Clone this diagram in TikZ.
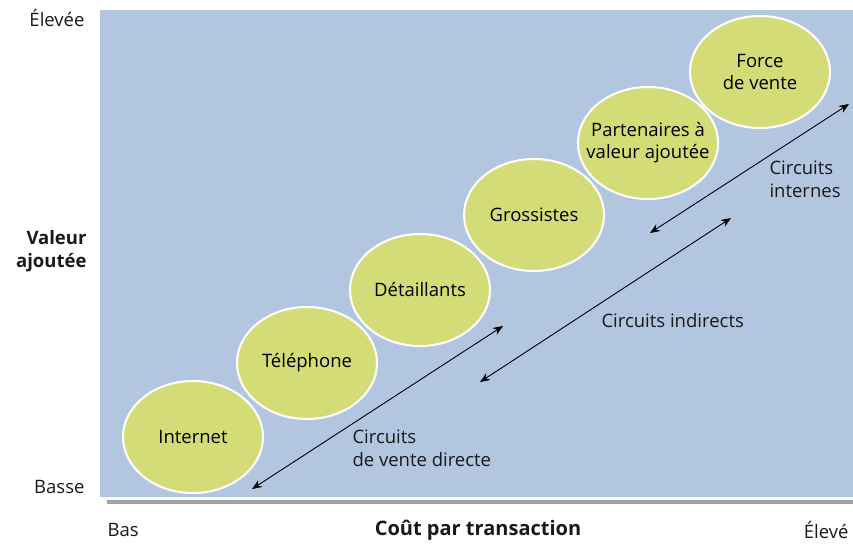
\documentclass[tikz,border=0pt]{standalone}
\usepackage{fontspec}
\setmainfont{Open Sans}
\usetikzlibrary{shapes.geometric,arrows.meta}
\definecolor{fondbleu}{HTML}{B3C6DF}
\definecolor{vertcircuit}{HTML}{D4DC78}
\definecolor{grisaxe}{HTML}{A3A3A3}
\begin{document}
\begin{tikzpicture}[line cap=round,line join=round,x=1pt,y=-1pt,
	circuit/.style={ellipse,fill=vertcircuit,draw=white,line width=2pt,minimum width=140pt,minimum height=112pt,inner xsep=-12pt,inner ysep=0pt,align=center,font=\fontsize{18.5}{22}\selectfont},
	etiq/.style={font=\fontsize{18.5}{23}\selectfont,text=black!90},
	fleche/.style={{Stealth[length=10pt,width=8pt]}-{Stealth[length=10pt,width=8pt]},line width=0.9pt}]
					\useasboundingbox (0,0) rectangle (853,543);
					\fill [color=fondbleu] (100,10) rectangle (853,497);
					\draw [line width=4pt, color=grisaxe, line cap=butt] (107,502)-- (853,502);
					%% les circuits
					\node[circuit] (internet) at (193,437) {Internet};
					\node[circuit] (telephone) at (307,363) {Téléphone};
					\node[circuit] (detaillants) at (420,290) {Détaillants};
					\node[circuit] (grossistes) at (534,215) {Grossistes};
					\node[circuit] (partenaires) at (648,143) {Partenaires à\\valeur ajoutée};
					\node[circuit] (force) at (760,72) {Force\\de vente};
					%% les fleches
					\coordinate (directA) at (252,489);
					\coordinate (directB) at (503,326);
					\coordinate (indirA) at (480,382);
					\coordinate (indirB) at (731,218);
					\coordinate (interneA) at (650,233);
					\coordinate (interneB) at (849,104);
					\draw [fleche] (directA) -- (directB);
					\draw [fleche] (indirA) -- (indirB);
					\draw [fleche] (interneA) -- (interneB);
					\node[etiq, anchor=west, align=left] (lbldirect) at (349,448) {Circuits\\de vente directe};
					\node[etiq, anchor=west] (lblindir) at (598,321) {Circuits indirects};
					\node[etiq, anchor=west, align=left] (lblinterne) at (766,179) {Circuits\\internes};
					%% les axes
					\node[etiq, anchor=east] (haut) at (88,18) {Élevée};
					\node[etiq, anchor=east] (bas) at (88,487) {Basse};
					\node[etiq, anchor=east, align=right, font=\fontsize{18.5}{23}\selectfont\bfseries] (valeur) at (90,251) {Valeur\\ajoutée};
					\node[etiq, anchor=west] (coutbas) at (104,530) {Bas};
					\node[etiq, font=\fontsize{20}{23}\selectfont\bfseries] (cout) at (478,530) {Coût par transaction};
					\node[etiq, anchor=east] (couthaut) at (852,530) {Élevé};
				\end{tikzpicture}
\end{document}
